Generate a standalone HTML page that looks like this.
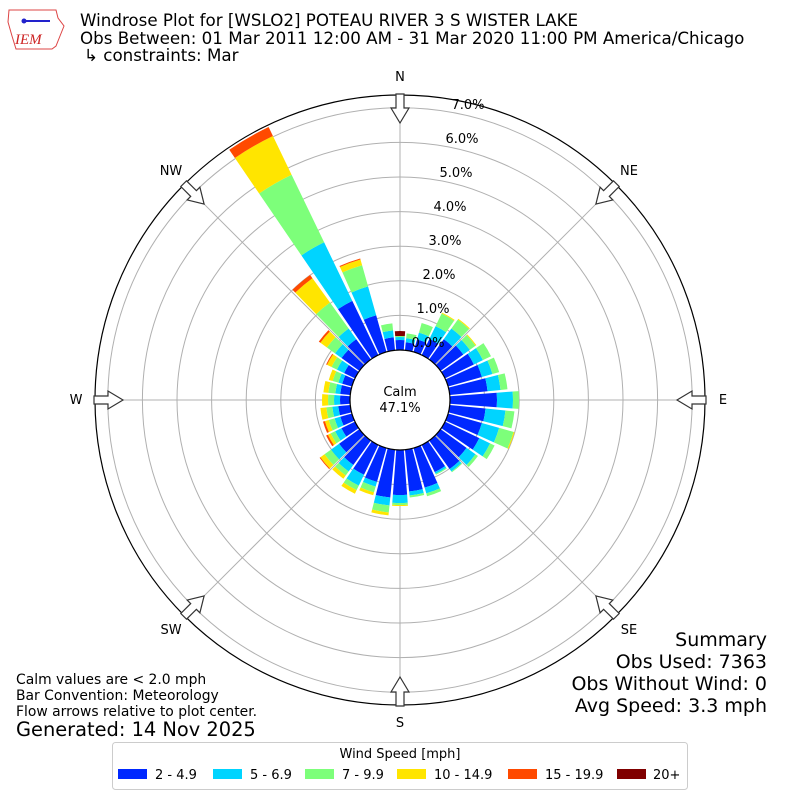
<!DOCTYPE html>
<html><head><meta charset="utf-8"><style>
body{margin:0;background:#fff}
svg{display:block;font-family:"DejaVu Sans","Liberation Sans",sans-serif}
</style></head><body>
<svg id="s" width="800" height="800" viewBox="0 0 800 800" xmlns="http://www.w3.org/2000/svg">
<rect width="800" height="800" fill="#fff"/>
<g id="grid" stroke="#b0b0b0" stroke-width="1" fill="none"></g>
<g id="bars"></g>
<circle cx="400" cy="400" r="50" fill="#fff" stroke="#000" stroke-width="1.2"/>
<circle cx="400" cy="400" r="305" fill="none" stroke="#000" stroke-width="1.2"/>
<g id="arrows" fill="#fff" stroke="#333" stroke-width="1.2"></g>
<text x="400" y="396" font-size="13" text-anchor="middle">Calm</text>
<text x="400" y="412" font-size="13" text-anchor="middle">47.1%</text>
<g font-size="13" text-anchor="middle">
<text x="428" y="347">0.0%</text><text x="433" y="313">1.0%</text><text x="439" y="279">2.0%</text>
<text x="445" y="245">3.0%</text><text x="450" y="211">4.0%</text><text x="456" y="177">5.0%</text>
<text x="462" y="143">6.0%</text><text x="468" y="109">7.0%</text>
<text x="400" y="81">N</text><text x="629" y="175">NE</text><text x="723" y="404">E</text>
<text x="629" y="634">SE</text><text x="400" y="727">S</text><text x="171" y="634">SW</text>
<text x="76" y="404">W</text><text x="171" y="175">NW</text>
</g>
<g font-size="16.7">
<text x="80" y="26">Windrose Plot for [WSLO2] POTEAU RIVER 3 S WISTER LAKE</text>
<text x="80" y="44">Obs Between: 01 Mar 2011 12:00 AM - 31 Mar 2020 11:00 PM America/Chicago</text>
<text x="84" y="61">↳ constraints: Mar</text>
</g>
<g>
<path d="M9 10 L56 10 L58 18 L64 26 L60 36 L56 46 L52 49 L16 49 L12 36 L8 22 Z" fill="none" stroke="#d44" stroke-width="1"/>
<line x1="22" y1="21" x2="50" y2="21" stroke="#22c" stroke-width="2"/>
<circle cx="24" cy="21" r="2.5" fill="#22c"/>
<text x="15" y="44" font-size="15" fill="#c22" font-style="italic" font-family="Liberation Serif,serif">IEM</text>
</g>
<g font-size="19" text-anchor="end">
<text x="767" y="646">Summary</text><text x="767" y="668">Obs Used: 7363</text>
<text x="767" y="690">Obs Without Wind: 0</text><text x="767" y="712">Avg Speed: 3.3 mph</text>
</g>
<g font-size="13.9">
<text x="16" y="684">Calm values are &lt; 2.0 mph</text>
<text x="16" y="700">Bar Convention: Meteorology</text>
<text x="16" y="716">Flow arrows relative to plot center.</text>
</g>
<text x="16" y="736" font-size="19.4">Generated: 14 Nov 2025</text>
<rect x="112.5" y="742.5" width="575" height="47" rx="3" fill="#fff" stroke="#ccc"/>
<text x="400" y="758" font-size="13" text-anchor="middle">Wind Speed [mph]</text>
<g font-size="13">
<rect x="118" y="769" width="29" height="10" fill="#0028ff"/><text x="155" y="779">2 - 4.9</text>
<rect x="213" y="769" width="29" height="10" fill="#00d4ff"/><text x="250" y="779">5 - 6.9</text>
<rect x="305" y="769" width="29" height="10" fill="#7dff7a"/><text x="342" y="779">7 - 9.9</text>
<rect x="397" y="769" width="29" height="10" fill="#ffe500"/><text x="434" y="779">10 - 14.9</text>
<rect x="508" y="769" width="29" height="10" fill="#ff4a00"/><text x="545" y="779">15 - 19.9</text>
<rect x="617" y="769" width="29" height="10" fill="#800000"/><text x="653" y="779">20+</text>
</g>
</svg>
<script>
const NS="http://www.w3.org/2000/svg",cx=400,cy=400;
function el(t,a,p){const e=document.createElementNS(NS,t);for(const k in a)e.setAttribute(k,a[k]);p.appendChild(e);return e;}
const grid=document.getElementById('grid');
for(let k=1;k<=7;k++)el('circle',{cx,cy,r:50+34.6*k},grid);
for(let a=0;a<360;a+=45){const t=a*Math.PI/180;el('line',{x1:cx,y1:cy,x2:cx+305*Math.sin(t),y2:cy-305*Math.cos(t)},grid);}
const cols=['#0028ff','#00d4ff','#7dff7a','#ffe500','#ff4a00','#800000'];
const D={0:[60,63,64,64,64,69],10:[58,62,67],20:[63,70,80],30:[68,82,96,97],40:[75,88,99,100],50:[78,86,93,94],
60:[82,92,101],70:[85,96,103],80:[88,101,108],90:[97,113,119],100:[86,106,115],110:[85,103,118,119],120:[88,100,105],
130:[82,93,96],140:[85,88,89],150:[80,82,83],160:[91,97,100],170:[92,96,98],180:[95,103,105,106],190:[98,106,113,116],
200:[85,90,96,99],210:[83,95,100,104],220:[80,88,93,97],230:[75,85,93,98,99],240:[65,72,77,80,82],250:[62,68,74,78,80],
260:[62,68,74,80],270:[60,66,72,78],280:[60,65,72,77],290:[60,64,70,74],300:[62,70,76,81,82],310:[72,80,90,98,100],
320:[75,88,120,150,154],330:[110,175,250,293,303],340:[88,118,140,146,147],350:[63,70,77]};
const bars=document.getElementById('bars');const hw=4.3;
function P(r,a){const t=a*Math.PI/180;return (cx+r*Math.sin(t)).toFixed(2)+' '+(cy-r*Math.cos(t)).toFixed(2);}
for(const d in D){const v=D[d];let prev=50;const a=+d;
 v.forEach((r,i)=>{if(r>prev){el('path',{d:`M${P(prev,a-hw)} A${prev} ${prev} 0 0 1 ${P(prev,a+hw)} L${P(r,a+hw)} A${r} ${r} 0 0 0 ${P(r,a-hw)} Z`,fill:cols[i]},bars);prev=r;}});}
const ar=document.getElementById('arrows');
for(let a=0;a<360;a+=45){
 const pts=[[306,-4],[292,-4],[292,-9],[277,0],[292,9],[292,4],[306,4]];
 const t=a*Math.PI/180,s=Math.sin(t),c=Math.cos(t);
 el('polygon',{points:pts.map(([r,w])=>(cx+r*s+w*c).toFixed(1)+','+(cy-r*c+w*s).toFixed(1)).join(' ')},ar);}
</script>
</body></html>
